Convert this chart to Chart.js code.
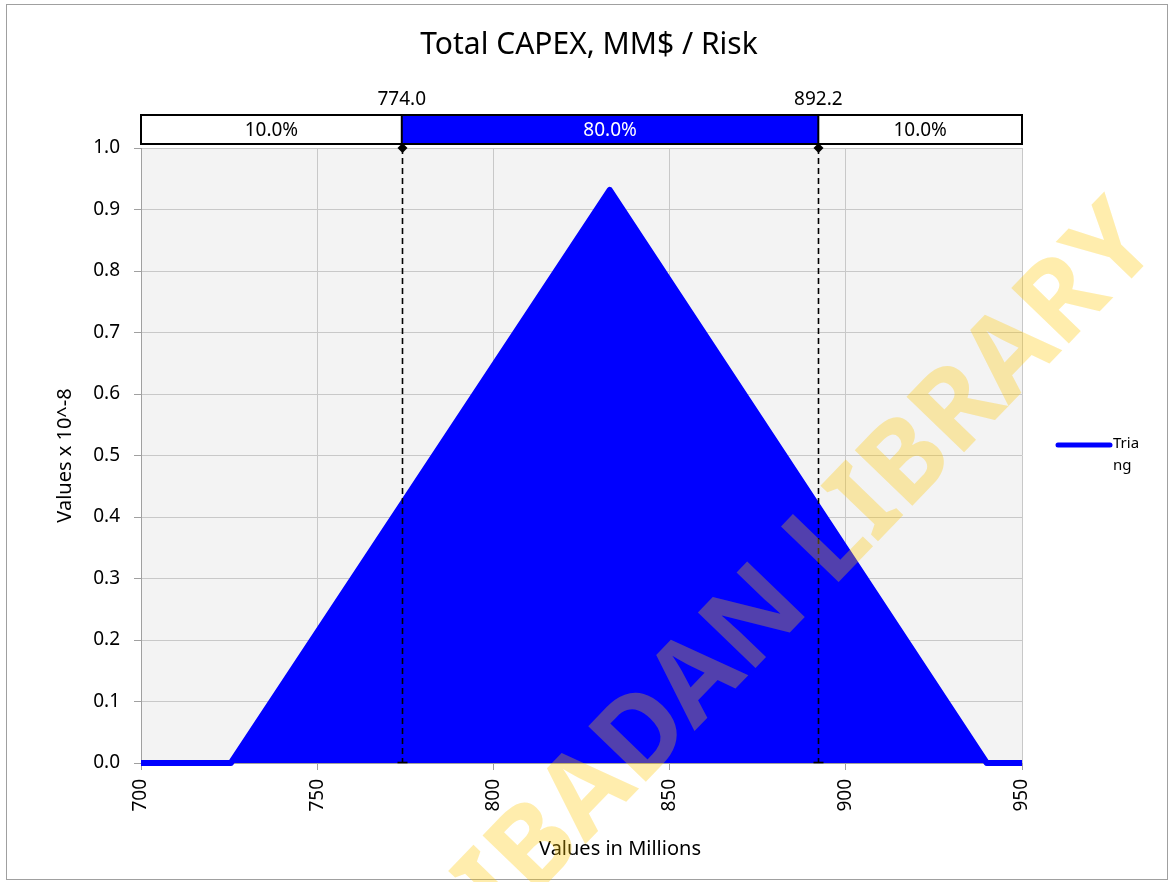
<!DOCTYPE html>
<html lang="en">

<head>
    <meta charset="UTF-8">
    <title>Total CAPEX, MM$ / Risk</title>
    <script src="https://cdn.jsdelivr.net/npm/chart.js"></script>
    <style>
        html, body { margin: 0; padding: 0; background: #ffffff; }
        #wrap { width: 1170px; height: 882px; }
    </style>
</head>

<body>
    <div id="wrap"><canvas id="riskChart" width="1170" height="882"></canvas></div>

    <script>
        ////////////////////////////////////////////////////
        // data
        const xValues = [700, 725.5, 833, 940, 950];          // values in millions
        const densityValues = [0, 0, 0.932, 0, 0];           // values x 10^-8
        const seriesName = 'Triang';
        const legendLines = ['Tria', 'ng'];
        const percentileValues = [774.0, 892.2];
        const percentileLabels = ['774.0', '892.2'];
        const bandLabels = ['10.0%', '80.0%', '10.0%'];
        const chartTitle = 'Total CAPEX, MM$ / Risk';
        const xTitle = 'Values in Millions';
        const yTitle = 'Values x 10^-8';
        const xMin = 700, xMax = 950, xStep = 50;
        const yMin = 0, yMax = 1.0, yStep = 0.1;
        ////////////////////////////////////////////////////

        const FONT = '"Noto Sans", "Open Sans", sans-serif';
        const BLUE = '#0000ff';

        var points = xValues.map((x, i) => ({ x: x, y: densityValues[i] }));

        // background, frame and plot area fill
        const backgroundPlugin = {
            id: 'backgroundPlugin',
            beforeDraw(chart) {
                const ctx = chart.ctx;
                const a = chart.chartArea;
                ctx.save();
                ctx.fillStyle = '#ffffff';
                ctx.fillRect(0, 0, chart.width, chart.height);
                ctx.strokeStyle = '#a0a0a0';
                ctx.lineWidth = 1;
                ctx.strokeRect(6.5, 4.5, chart.width - 9, chart.height - 7);
                ctx.fillStyle = '#f3f3f3';
                ctx.fillRect(a.left, a.top, a.right - a.left, a.bottom - a.top);
                ctx.restore();
            }
        };

        // percentile bar, delimiters, title, legend, x title
        const overlayPlugin = {
            id: 'overlayPlugin',
            afterDatasetsDraw(chart) {
                const ctx = chart.ctx;
                const a = chart.chartArea;
                const xs = chart.scales.x;
                ctx.save();
                // dashed delimiter lines
                ctx.strokeStyle = '#000000';
                ctx.lineWidth = 1.6;
                ctx.setLineDash([6, 4]);
                percentileValues.forEach(v => {
                    const px = Math.round(xs.getPixelForValue(v)) + 0.5;
                    ctx.beginPath();
                    ctx.moveTo(px, a.top);
                    ctx.lineTo(px, a.bottom);
                    ctx.stroke();
                });
                ctx.setLineDash([]);
                percentileValues.forEach(v => {
                    const px = Math.round(xs.getPixelForValue(v)) + 0.5;
                    ctx.beginPath();
                    ctx.moveTo(px - 5, a.bottom - 0.5);
                    ctx.lineTo(px + 5, a.bottom - 0.5);
                    ctx.stroke();
                });
                ctx.restore();
            },
            afterDraw(chart) {
                const ctx = chart.ctx;
                const a = chart.chartArea;
                const xs = chart.scales.x;
                ctx.save();

                // title
                ctx.fillStyle = '#000000';
                ctx.font = '30px ' + FONT;
                ctx.textAlign = 'center';
                ctx.textBaseline = 'middle';
                ctx.fillText(chartTitle, 589, 45);

                // percentile bar
                const barTop = 115, barBottom = 144;
                const edges = [xs.getPixelForValue(xMin), xs.getPixelForValue(percentileValues[0]),
                    xs.getPixelForValue(percentileValues[1]), xs.getPixelForValue(xMax)];
                for (let i = 0; i < 3; i++) {
                    ctx.fillStyle = i === 1 ? BLUE : '#ffffff';
                    ctx.fillRect(edges[i], barTop, edges[i + 1] - edges[i], barBottom - barTop);
                }
                ctx.strokeStyle = '#000000';
                ctx.lineWidth = 2;
                ctx.strokeRect(edges[0], barTop, edges[3] - edges[0], barBottom - barTop);
                ctx.beginPath();
                ctx.moveTo(edges[1], barTop); ctx.lineTo(edges[1], barBottom);
                ctx.moveTo(edges[2], barTop); ctx.lineTo(edges[2], barBottom);
                ctx.stroke();
                ctx.font = '19px ' + FONT;
                for (let i = 0; i < 3; i++) {
                    ctx.fillStyle = i === 1 ? '#ffffff' : '#000000';
                    ctx.fillText(bandLabels[i], (edges[i] + edges[i + 1]) / 2, (barTop + barBottom) / 2 + 1);
                }
                ctx.fillStyle = '#000000';
                percentileLabels.forEach((t, i) => {
                    ctx.fillText(t, xs.getPixelForValue(percentileValues[i]), 100);
                });
                // diamonds
                percentileValues.forEach(v => {
                    const px = Math.round(xs.getPixelForValue(v)) + 0.5;
                    ctx.beginPath();
                    ctx.moveTo(px, a.top - 5);
                    ctx.lineTo(px + 5, a.top);
                    ctx.lineTo(px, a.top + 5);
                    ctx.lineTo(px - 5, a.top);
                    ctx.closePath();
                    ctx.fill();
                });

                // x axis title
                ctx.font = '20px ' + FONT;
                ctx.fillText(xTitle, 620, 849);

                // legend
                ctx.strokeStyle = BLUE;
                ctx.lineWidth = 5;
                ctx.lineCap = 'round';
                ctx.beginPath();
                ctx.moveTo(1058, 445);
                ctx.lineTo(1110, 445);
                ctx.stroke();
                ctx.font = '15px ' + FONT;
                ctx.textAlign = 'left';
                ctx.fillText(legendLines[0], 1113, 444);
                ctx.fillText(legendLines[1], 1113, 466);

                // library watermark
                ctx.translate(1162, 247);
                ctx.rotate(-46 * Math.PI / 180);
                ctx.font = 'bold 112px ' + FONT;
                ctx.textAlign = 'right';
                ctx.textBaseline = 'alphabetic';
                ctx.fillStyle = 'rgba(255, 200, 0, 0.32)';
                ctx.fillText('UNIVERSITY OF IBADAN LIBRARY', 0, 0);
                ctx.restore();
            }
        };

        var ctx = document.getElementById('riskChart').getContext('2d');
        new Chart(ctx, {
            type: 'line',
            data: {
                datasets: [{
                    label: seriesName,
                    data: points,
                    borderColor: BLUE,
                    backgroundColor: BLUE,
                    borderWidth: 6,
                    borderJoinStyle: 'round',
                    pointRadius: 0,
                    tension: 0,
                    fill: 'origin',
                    clip: false
                }]
            },
            options: {
                responsive: false,
                animation: false,
                events: [],
                layout: { padding: { left: 10, right: 148, top: 148, bottom: 10 } },
                plugins: {
                    legend: { display: false },
                    title: { display: false },
                    tooltip: { enabled: false }
                },
                scales: {
                    x: {
                        type: 'linear',
                        min: xMin,
                        max: xMax,
                        afterFit: s => { s.height = 109; },
                        ticks: {
                            stepSize: xStep,
                            minRotation: 90,
                            maxRotation: 90,
                            padding: 9,
                            color: '#000000',
                            font: { family: FONT, size: 19 }
                        },
                        grid: { color: '#c8c8c8', tickLength: 7, tickColor: '#a0a0a0' },
                        border: { color: '#a0a0a0' }
                    },
                    y: {
                        min: yMin,
                        max: yMax,
                        afterFit: s => { s.width = 131; },
                        ticks: {
                            stepSize: yStep,
                            padding: 14,
                            color: '#000000',
                            font: { family: FONT, size: 19 },
                            callback: v => Number(v).toFixed(1)
                        },
                        title: {
                            display: true,
                            text: yTitle,
                            color: '#000000',
                            font: { family: FONT, size: 20 },
                            padding: { top: 43, bottom: 0 }
                        },
                        grid: { color: '#c8c8c8', tickLength: 7, tickColor: '#a0a0a0' },
                        border: { color: '#a0a0a0' }
                    }
                }
            },
            plugins: [backgroundPlugin, overlayPlugin]
        });
    </script>
</body>

</html>
